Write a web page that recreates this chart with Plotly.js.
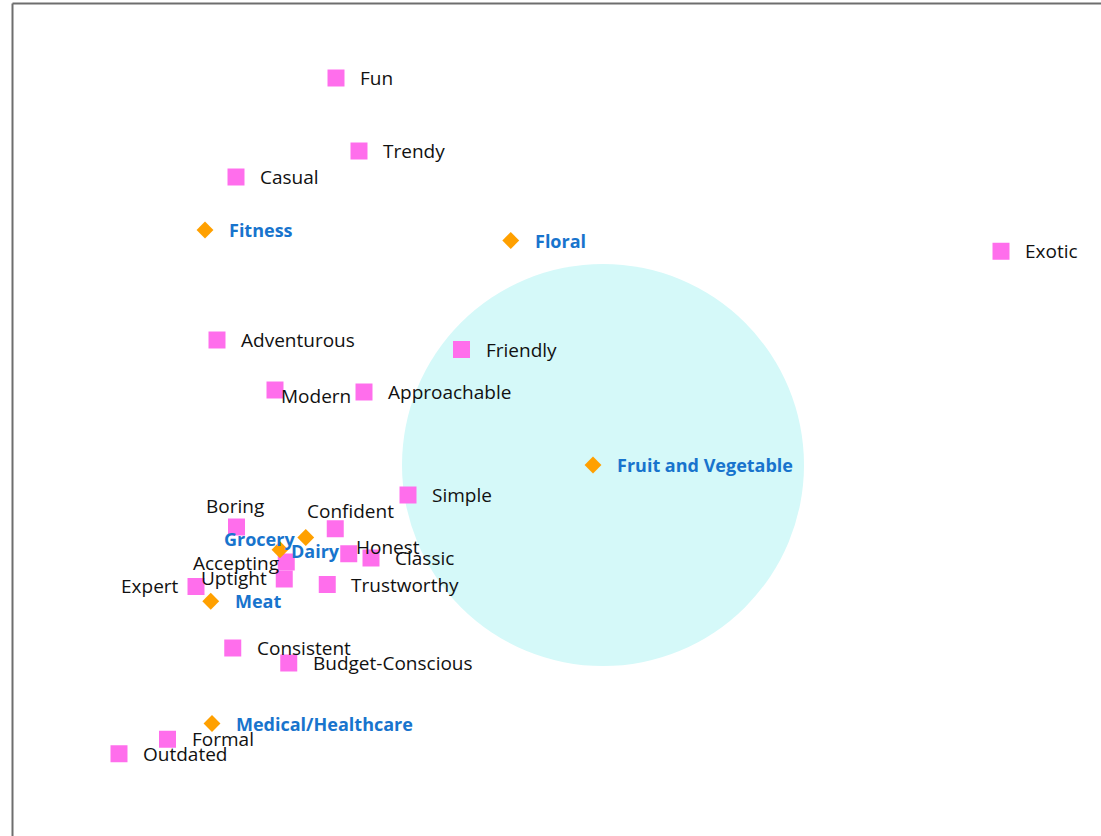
<!DOCTYPE html>
<html>
<head>
<meta charset="utf-8">
<script src="https://cdn.plot.ly/plotly-3.0.1.min.js"></script>
<style>
  html, body { margin: 0; padding: 0; background: #ffffff; }
  #chart { width: 1101px; height: 836px; }
</style>
</head>
<body>
<div id="chart"></div>
<script>
// ---- Data (perceptual map coordinates, dimension 1 / dimension 2) ----
const attributes = ["Fun", "Trendy", "Casual", "Exotic", "Adventurous", "Friendly", "Modern",
  "Approachable", "Simple", "Boring", "Confident", "Honest", "Classic", "Accepting", "Uptight",
  "Expert", "Trustworthy", "Consistent", "Budget-Conscious", "Formal", "Outdated"];
const attrX = [0.144, 0.236, -0.256, 2.804, -0.332, 0.646, -0.100,
  0.256, 0.432, -0.254, 0.141, 0.195, 0.284, -0.055, -0.063,
  -0.416, 0.109, -0.269, -0.045, -0.530, -0.724];
const attrY = [1.928, 1.636, 1.532, 1.235, 0.880, 0.842, 0.680,
  0.672, 0.260, 0.132, 0.125, 0.025, 0.008, -0.008, -0.076,
  -0.106, -0.098, -0.352, -0.412, -0.717, -0.775];

const categories = ["Fitness", "Floral", "Fruit and Vegetable", "Grocery", "Dairy", "Meat", "Medical/Healthcare"];
const catX = [-0.380, 0.843, 1.172, -0.080, 0.023, -0.357, -0.352];
const catY = [1.320, 1.278, 0.380, 0.041, 0.090, -0.165, -0.654];

// highlighted region (centre x, centre y, radius)
const highlight = [1.212, 0.380, 0.804];

// ---- Label placement (style only) ----
const defaultLabel = { xanchor: "left", xshift: 24, yshift: 0 };
const labelPlacement = {
  "Modern":    { xanchor: "left",   xshift: 6,   yshift: -6 },
  "Boring":    { xanchor: "center", xshift: -2,  yshift: 21 },
  "Confident": { xanchor: "center", xshift: 15,  yshift: 18 },
  "Grocery":   { xanchor: "center", xshift: -21, yshift: 11 },
  "Dairy":     { xanchor: "center", xshift: 10,  yshift: -13 },
  "Honest":    { xanchor: "left",   xshift: 7,   yshift: 7 },
  "Accepting": { xanchor: "right",  xshift: -7,  yshift: -1 },
  "Uptight":   { xanchor: "right",  xshift: -17, yshift: 1 },
  "Expert":    { xanchor: "right",  xshift: -17, yshift: 1 }
};

const FONT = "'Open Sans', 'Noto Sans', sans-serif";
const PINK = "#ff6eec";
const ORANGE = "#ffa000";
const BLUE = "#1874cd";

const traces = [
  {
    type: "scatter", mode: "markers", name: "Attributes",
    x: attrX, y: attrY, text: attributes, hoverinfo: "text",
    marker: { symbol: "square", size: 17, color: PINK, line: { width: 0 } }
  },
  {
    type: "scatter", mode: "markers", name: "Categories",
    x: catX, y: catY, text: categories, hoverinfo: "text",
    marker: { symbol: "diamond", size: 13, color: ORANGE, line: { width: 0 } }
  }
];

function makeLabel(name, x, y, font) {
  const p = labelPlacement[name] || defaultLabel;
  return {
    x: x, y: y, xref: "x", yref: "y", text: name, showarrow: false,
    xanchor: p.xanchor, yanchor: "middle", xshift: p.xshift, yshift: p.yshift,
    borderpad: 0, borderwidth: 0, font: font
  };
}

const annotations = [];
attributes.forEach((n, i) => annotations.push(makeLabel(n, attrX[i], attrY[i],
  { family: FONT, size: 19, color: "#111111" })));
categories.forEach((n, i) => annotations.push(makeLabel(n, catX[i], catY[i],
  { family: FONT, size: 18, color: BLUE, weight: "bold" })));

const layout = {
  width: 1101, height: 836,
  margin: { l: 0, r: 0, t: 0, b: 0, pad: 0 },
  paper_bgcolor: "#ffffff", plot_bgcolor: "#ffffff",
  showlegend: false,
  xaxis: { range: [-1.2, 3.204], visible: false, showgrid: false, zeroline: false, fixedrange: true },
  yaxis: { range: [-1.104, 2.24], visible: false, showgrid: false, zeroline: false, fixedrange: true },
  shapes: [
    {
      type: "circle", xref: "x", yref: "y", layer: "below",
      x0: highlight[0] - highlight[2], x1: highlight[0] + highlight[2],
      y0: highlight[1] - highlight[2], y1: highlight[1] + highlight[2],
      fillcolor: "#d5f9f9", line: { width: 0 }
    },
    { type: "line", xref: "paper", yref: "paper", x0: 12.5 / 1101, x1: 1.01, y0: 1 - 3.5 / 836, y1: 1 - 3.5 / 836,
      line: { color: "#6e6e6e", width: 2 } },
    { type: "line", xref: "paper", yref: "paper", x0: 12.5 / 1101, x1: 12.5 / 1101, y0: 1 - 3.5 / 836, y1: -0.01,
      line: { color: "#6e6e6e", width: 2 } }
  ],
  annotations: annotations
};

Plotly.newPlot("chart", traces, layout, { displayModeBar: false, staticPlot: true });
</script>
</body>
</html>
